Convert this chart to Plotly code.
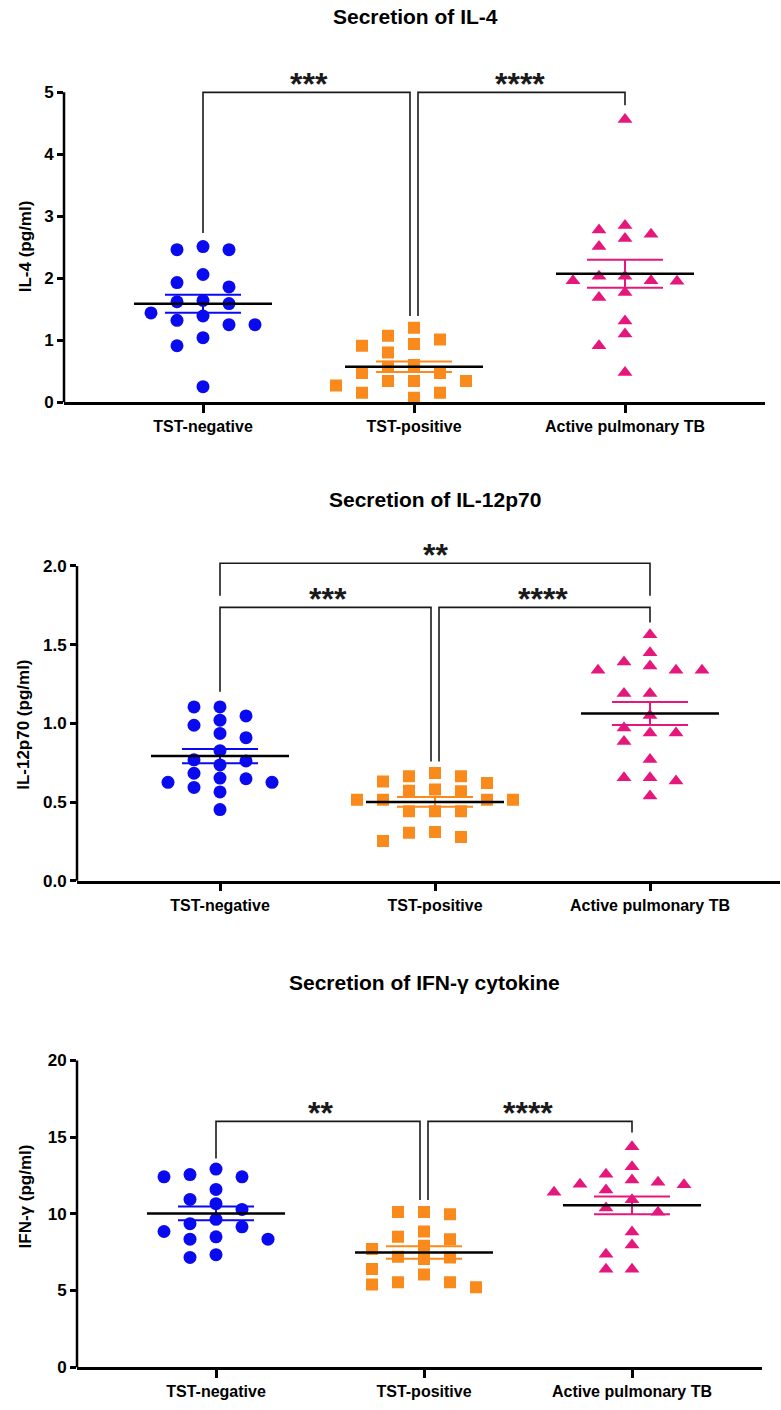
import numpy as np
import plotly.graph_objects as go

# ---------------- data ----------------
categories = ["TST-negative", "TST-positive", "Active pulmonary TB"]

il4_tst_neg = [2.46, 2.46, 2.51, 2.06, 1.93, 1.86, 1.62, 1.64, 1.59, 1.39, 1.44, 1.32, 1.25, 1.25, 1.04, 0.91, 0.25]
il4_tst_pos = [1.20, 1.07, 1.01, 0.94, 0.91, 0.80, 0.60, 0.57, 0.47, 0.47, 0.34, 0.34, 0.27, 0.34, 0.15, 0.15, 0.07]
il4_active = [4.56, 2.85, 2.71, 2.78, 2.64, 2.51, 1.96, 1.95, 2.03, 2.03, 1.96, 1.69, 1.77, 1.31, 1.10, 0.91, 0.48]

il12_tst_neg = [1.104, 1.104, 1.047, 1.02, 0.988, 0.936, 0.909, 0.826, 0.761, 0.768, 0.736, 0.683, 0.625,
                0.652, 0.648, 0.593, 0.625, 0.564, 0.452]
il12_tst_pos = [0.63, 0.515, 0.684, 0.515, 0.663, 0.572, 0.442, 0.663, 0.568, 0.442, 0.579, 0.442, 0.621,
                0.515, 0.515, 0.253, 0.305, 0.278, 0.309]
il12_active = [1.563, 1.449, 1.390, 1.338, 1.365, 1.338, 1.338, 1.19, 1.19, 1.049, 0.970, 0.938, 0.938,
               0.885, 0.770, 0.654, 0.654, 0.633, 0.538]

ifng_tst_neg = [12.41, 12.41, 12.56, 12.92, 11.59, 10.94, 10.66, 10.29, 9.64, 9.15, 9.36, 8.50, 8.35, 8.85, 8.35, 7.16, 7.34]
ifng_tst_pos = [9.97, 7.92, 7.2, 6.04, 10.12, 8.35, 7.05, 5.54, 10.12, 8.85, 7.16, 5.54, 7.70, 6.41, 5.22, 8.50, 5.39]
ifng_active = [14.37, 13.07, 12.58, 12.21, 12.06, 11.93, 11.56, 11.89, 11.41, 10.92, 10.38, 10.10, 8.82, 7.96,
               7.36, 6.39, 6.39]

# significance brackets: labels, category pairs, bracket level, leg ends
il4_sig_labels = ["***", "****"]
il4_sig_pairs = [(0, 1), (1, 2)]
il4_sig_top = [5.0, 5.0]
il4_sig_legs = [(2.73, 1.39), (1.39, 4.79)]

il12_sig_labels = ["**", "***", "****"]
il12_sig_pairs = [(0, 2), (0, 1), (1, 2)]
il12_sig_top = [2.017, 1.737, 1.737]
il12_sig_legs = [(1.81, 1.81), (1.20, 0.758), (0.758, 1.64)]

ifng_sig_labels = ["**", "****"]
ifng_sig_pairs = [(0, 1), (1, 2)]
ifng_sig_top = [16.03, 16.03]
ifng_sig_legs = [(13.6, 10.9), (10.9, 15.3)]

panel_titles = ["Secretion of IL-4", "Secretion of IL-12p70", "Secretion of IFN-γ cytokine"]
y_titles = ["IL-4 (pg/ml)", "IL-12p70 (pg/ml)", "IFN-γ (pg/ml)"]
y_ticks = [[0, 1, 2, 3, 4, 5], [0, 0.5, 1.0, 1.5, 2.0], [0, 5, 10, 15, 20]]
y_tick_text = [["0", "1", "2", "3", "4", "5"], ["0.0", "0.5", "1.0", "1.5", "2.0"], ["0", "5", "10", "15", "20"]]

# ---------------- styling / layout ----------------
W, H = 781, 1410
FONT = "Liberation Sans, Arial, Helvetica, sans-serif"
colors = ["#0a0af0", "#fb8a1c", "#e6177c"]
symbols = ["circle", "square", "triangle-up"]
sizes = [13, 12, 13]

geoms = [
    dict(x_left=64, x_right=765, cat0=203, cat_step=211, y0=405, ppu=62.4, ymax=5.6,
         title_xy=(415, 17), ytitle_xy=(25, 248)),
    dict(x_left=77, x_right=780, cat0=220, cat_step=215, y0=887, ppu=158.5, ymax=2.25,
         title_xy=(435, 503), ytitle_xy=(24, 730)),
    dict(x_left=77, x_right=762, cat0=216, cat_step=208, y0=1377, ppu=15.45, ymax=20.6,
         title_xy=(424, 990), ytitle_xy=(25, 1205)),
]

panels_data = [
    [il4_tst_neg, il4_tst_pos, il4_active],
    [il12_tst_neg, il12_tst_pos, il12_active],
    [ifng_tst_neg, ifng_tst_pos, ifng_active],
]
panels_sig = [
    (il4_sig_labels, il4_sig_pairs, il4_sig_top, il4_sig_legs),
    (il12_sig_labels, il12_sig_pairs, il12_sig_top, il12_sig_legs),
    (ifng_sig_labels, ifng_sig_pairs, ifng_sig_top, ifng_sig_legs),
]

STEP_PX = 26      # horizontal spacing of swarm columns
MIN_DY_PX = 13    # vertical distance needed to share a column
MEAN_HALF_PX = 69
SEM_HALF_PX = 38
GAP_PX = 4


def swarm_offsets(vals, px_x, px_y):
    """Simple deterministic column-scatter layout (offsets in category units)."""
    order = sorted(range(len(vals)), key=lambda i: -vals[i])
    placed = []
    cols = [0] * len(vals)
    for i in order:
        k = 0
        done = False
        while not done:
            cands = [0] if k == 0 else [-k, k]
            for c in cands:
                ok = all(not (pc == c and abs(pv - vals[i]) * px_y < MIN_DY_PX) for pc, pv in placed)
                if ok:
                    cols[i] = c
                    placed.append((c, vals[i]))
                    done = True
                    break
            k += 1
    return [c * STEP_PX / px_x for c in cols]


fig = go.Figure()
annotations = []
shapes = []
layout_axes = {}

for p, (g, groups, sig) in enumerate(zip(geoms, panels_data, panels_sig)):
    k = p + 1
    xname = "x" if k == 1 else f"x{k}"
    yname = "y" if k == 1 else f"y{k}"
    xa = "xaxis" if k == 1 else f"xaxis{k}"
    ya = "yaxis" if k == 1 else f"yaxis{k}"

    xr = [(g["x_left"] - g["cat0"]) / g["cat_step"], (g["x_right"] - g["cat0"]) / g["cat_step"]]
    ydom = [1 - g["y0"] / H, 1 - (g["y0"] - g["ymax"] * g["ppu"]) / H]

    layout_axes[xa] = dict(
        domain=[g["x_left"] / W, g["x_right"] / W], range=xr, anchor=yname,
        tickmode="array", tickvals=[0, 1, 2], ticktext=categories,
        showline=True, linewidth=2.5, linecolor="black", showgrid=False, zeroline=False,
        ticks="outside", ticklen=8, tickwidth=2.5, tickcolor="black",
        tickfont=dict(family=FONT, size=16, color="black", weight="bold"),
    )
    layout_axes[ya] = dict(
        domain=ydom, range=[0, g["ymax"]], anchor=xname,
        tickmode="array", tickvals=y_ticks[p], ticktext=y_tick_text[p],
        showline=False, showgrid=False, zeroline=False,
        ticks="outside", ticklen=6, tickwidth=2.5, tickcolor="black",
        tickfont=dict(family=FONT, size=17, color="black", weight="bold"),
    )
    # y axis line only up to the top tick
    shapes.append(dict(type="line", xref=f"{xname} domain", yref=f"{yname} domain",
                       x0=0, x1=0, y0=0, y1=max(y_ticks[p]) / g["ymax"],
                       line=dict(color="black", width=2.5)))

    # points
    for j, vals in enumerate(groups):
        offs = swarm_offsets(vals, g["cat_step"], g["ppu"])
        fig.add_trace(go.Scatter(
            x=[j + o for o in offs], y=vals, mode="markers", xaxis=xname, yaxis=yname,
            marker=dict(symbol=symbols[j], size=sizes[j], color=colors[j], line=dict(width=0)),
            showlegend=False, hoverinfo="skip"))

    # mean and SEM
    for j, vals in enumerate(groups):
        v = np.array(vals)
        m = v.mean()
        s = v.std(ddof=1) / np.sqrt(len(v))
        sh = SEM_HALF_PX / g["cat_step"]
        mh = MEAN_HALF_PX / g["cat_step"]
        fig.add_trace(go.Scatter(
            x=[j - sh, j + sh, None, j - sh, j + sh, None, j, j],
            y=[m + s, m + s, None, m - s, m - s, None, m - s, m + s],
            mode="lines", line=dict(color=colors[j], width=2), xaxis=xname, yaxis=yname,
            showlegend=False, hoverinfo="skip"))
        fig.add_trace(go.Scatter(
            x=[j - mh, j + mh], y=[m, m], mode="lines", line=dict(color="black", width=2.5),
            xaxis=xname, yaxis=yname, showlegend=False, hoverinfo="skip"))

    # significance brackets
    labels, pairs, tops, legs = sig
    gap = GAP_PX / g["cat_step"]
    for lab, (a, b), top, (l0, l1) in zip(labels, pairs, tops, legs):
        xa0 = a + gap if a == 1 else a
        xb1 = b - gap if b == 1 else b
        fig.add_trace(go.Scatter(
            x=[xa0, xa0, xb1, xb1], y=[l0, top, top, l1], mode="lines",
            line=dict(color="#1a1a1a", width=1.6), xaxis=xname, yaxis=yname,
            showlegend=False, hoverinfo="skip"))
        annotations.append(dict(
            x=(a + b) / 2, y=top, xref=xname, yref=yname, text=lab, showarrow=False,
            xanchor="center", yanchor="bottom", yshift=-12,
            font=dict(family=FONT, size=32, color="#1a1a1a", weight="bold")))

    # titles
    tx, ty = g["title_xy"]
    annotations.append(dict(
        x=tx / W, y=1 - ty / H, xref="paper", yref="paper", text=panel_titles[p], showarrow=False,
        xanchor="center", yanchor="middle",
        font=dict(family=FONT, size=21, color="black", weight="bold")))
    yx, yy = g["ytitle_xy"]
    annotations.append(dict(
        x=yx / W, y=1 - yy / H, xref="paper", yref="paper", text=y_titles[p], showarrow=False,
        textangle=-90, xanchor="center", yanchor="middle",
        font=dict(family=FONT, size=17, color="black", weight="bold")))

fig.update_layout(
    width=W, height=H, margin=dict(l=0, r=0, t=0, b=0),
    paper_bgcolor="white", plot_bgcolor="white", showlegend=False,
    annotations=annotations, shapes=shapes, **layout_axes,
)

fig.write_html("out.html")
